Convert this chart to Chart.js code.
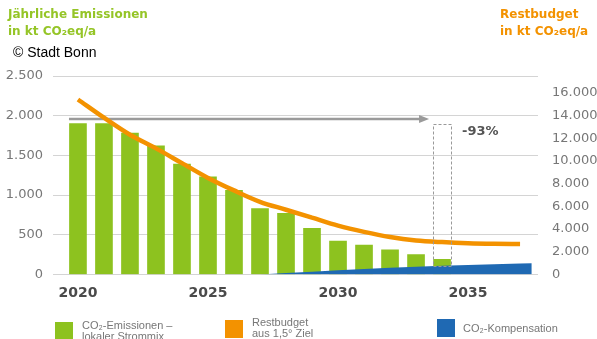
<!DOCTYPE html>
<html>
<head>
<meta charset="utf-8">
<script src="https://cdn.jsdelivr.net/npm/chart.js@4.4.1/dist/chart.umd.min.js"></script>
<style>
  body { margin: 0; background: #fff; }
  #wrap { position: relative; width: 597px; height: 339px; overflow: hidden; }
  #myChart { position: absolute; left: 0; top: 0; }
  .t { position: absolute; white-space: nowrap; }
  .title { font: bold 12px "DejaVu Sans", sans-serif; line-height: 17px; }
  .lg { font: 11px "Liberation Sans Narrow", "Liberation Sans", sans-serif; color: #777; line-height: 11px; }
  .sq { position: absolute; width: 18px; height: 18px; }
</style>
</head>
<body>
<div id="wrap">
  <canvas id="myChart" width="597" height="339"></canvas>
  <div class="t title" style="left:8px; top:6px; color:#95c527;">Jährliche Emissionen<br>in kt CO₂eq/a</div>
  <div class="t title" style="left:500px; top:6px; color:#f39200;">Restbudget<br>in kt CO₂eq/a</div>
  <div class="t" style="left:13px; top:44px; font:14px 'Liberation Sans', sans-serif; line-height:16px; color:#000;">© Stadt Bonn</div>

  <div class="sq" style="left:55px; top:322px; background:#8dc21f;"></div>
  <div class="t lg" style="left:82px; top:320px;">CO₂-Emissionen –<br>lokaler Strommix</div>
  <div class="sq" style="left:225px; top:320px; background:#f39200;"></div>
  <div class="t lg" style="left:252px; top:317px;">Restbudget<br>aus 1,5° Ziel</div>
  <div class="sq" style="left:437px; top:319px; background:#1f69b3;"></div>
  <div class="t lg" style="left:463px; top:323px;">CO₂-Kompensation</div>
</div>
<script>
var years = [2020, 2021, 2022, 2023, 2024, 2025, 2026, 2027, 2028, 2029, 2030, 2031, 2032, 2033, 2034, 2035, 2036, 2037];
var emissions = [1900, 1900, 1780, 1620, 1390, 1230, 1060, 830, 770, 580, 420, 370, 310, 250, 190];
var budget = [15400, 13800, 12300, 11100, 9800, 8500, 7400, 6400, 5700, 5000, 4300, 3750, 3300, 3000, 2850, 2750, 2700, 2680];
var compYears = [2027, 2028, 2029, 2030, 2031, 2032, 2033, 2034, 2035, 2036, 2037, 2037.45];
var compensation = [0, 18, 36, 54, 70, 86, 98, 110, 120, 130, 138, 141];
var xTicks = [2020, 2025, 2030, 2035];
var leftTicks = [0, 500, 1000, 1500, 2000, 2500];
var rightTicks = [0, 2000, 4000, 6000, 8000, 10000, 12000, 14000, 16000];
var startLevel = 1960;      // grey arrow level
var targetYear = 2034;
var reduction = '-93%';

function fmt(v) {
    return String(v).replace(/\B(?=(\d{3})+(?!\d))/g, '.');
}

var annot = {
    id: 'annot',
    beforeDatasetsDraw: function (chart) {
        var c = chart.ctx, x = chart.scales.x, y = chart.scales.y;
        var yy = y.getPixelForValue(startLevel);
        var x0 = x.getPixelForValue(years[0]) - 9;
        var x1 = x.getPixelForValue(targetYear) - 15;
        c.save();
        c.strokeStyle = '#9a9a9a';
        c.fillStyle = '#9a9a9a';
        c.lineWidth = 2.5;
        c.beginPath();
        c.moveTo(x0, yy);
        c.lineTo(x1 - 6, yy);
        c.stroke();
        c.beginPath();
        c.moveTo(x1 + 2, yy);
        c.lineTo(x1 - 8, yy - 4);
        c.lineTo(x1 - 8, yy + 4);
        c.closePath();
        c.fill();
        c.restore();
    },
    afterDatasetsDraw: function (chart) {
        var c = chart.ctx, x = chart.scales.x, y = chart.scales.y;
        var xc = x.getPixelForValue(targetYear);
        var top = y.getPixelForValue(emissions[0]);
        var bot = y.getPixelForValue(compensation[compYears.indexOf(targetYear)]);
        c.save();
        c.strokeStyle = '#999';
        c.lineWidth = 1;
        c.setLineDash([3, 2]);
        c.strokeRect(Math.round(xc - 9) + 0.5, Math.round(top) + 0.5, 18, Math.round(bot - top));
        c.setLineDash([]);
        c.fillStyle = '#555';
        c.font = 'bold 13px "DejaVu Sans"';
        c.textBaseline = 'middle';
        c.fillText(reduction, xc + 20, top + 8);
        c.restore();
    }
};

var ctx = document.getElementById('myChart').getContext('2d');
var myChart = new Chart(ctx, {
    type: 'bar',
    data: {
        datasets: [{
            type: 'line',
            label: 'Restbudget aus 1,5° Ziel',
            data: years.map(function (yr, i) { return { x: yr, y: budget[i] }; }),
            yAxisID: 'y1',
            borderColor: '#f39200',
            borderWidth: 4.5,
            pointRadius: 0,
            cubicInterpolationMode: 'monotone',
            fill: false,
            order: 0
        }, {
            type: 'line',
            label: 'CO₂-Kompensation',
            data: compYears.map(function (yr, i) { return { x: yr, y: compensation[i] }; }),
            yAxisID: 'y',
            backgroundColor: '#1f69b3',
            borderColor: '#1f69b3',
            borderWidth: 0,
            pointRadius: 0,
            fill: 'origin',
            order: 1
        }, {
            type: 'bar',
            label: 'CO₂-Emissionen – lokaler Strommix',
            data: emissions.map(function (v, i) { return { x: years[i], y: v }; }),
            yAxisID: 'y',
            backgroundColor: '#8dc21f',
            barThickness: 17,
            order: 2
        }]
    },
    options: {
        responsive: false,
        animation: false,
        layout: { padding: { top: 76, bottom: 24.5, left: 0, right: 0 } },
        plugins: { legend: { display: false }, tooltip: { enabled: false } },
        scales: {
            x: {
                type: 'linear',
                min: 2019.04,
                max: 2037.69,
                offset: false,
                grid: { display: false, drawTicks: false, offset: false },
                border: { display: false },
                afterBuildTicks: function (s) { s.ticks = xTicks.map(function (v) { return { value: v }; }); },
                afterFit: function (s) { s.height = 40; },
                ticks: {
                    font: { family: 'DejaVu Sans', size: 14, weight: 'bold' },
                    color: '#4a4a4a',
                    padding: 10,
                    maxRotation: 0,
                    autoSkip: false,
                    callback: function (v) { return String(v); }
                }
            },
            y: {
                position: 'left',
                min: 0,
                max: 2500,
                afterBuildTicks: function (s) { s.ticks = leftTicks.map(function (v) { return { value: v }; }); },
                afterFit: function (s) { s.width = 53; },
                grid: { color: '#d4d4d4', drawTicks: false },
                border: { display: false },
                ticks: { font: { family: 'DejaVu Sans', size: 13 }, color: '#777', padding: 10, callback: fmt }
            },
            y1: {
                position: 'right',
                min: 0,
                max: 17470,
                afterBuildTicks: function (s) { s.ticks = rightTicks.map(function (v) { return { value: v }; }); },
                afterFit: function (s) { s.width = 59; },
                grid: { display: false, drawTicks: false },
                border: { display: false },
                ticks: { font: { family: 'DejaVu Sans', size: 13 }, color: '#777', padding: 14, callback: fmt }
            }
        }
    },
    plugins: [annot]
});
</script>
</body>
</html>
